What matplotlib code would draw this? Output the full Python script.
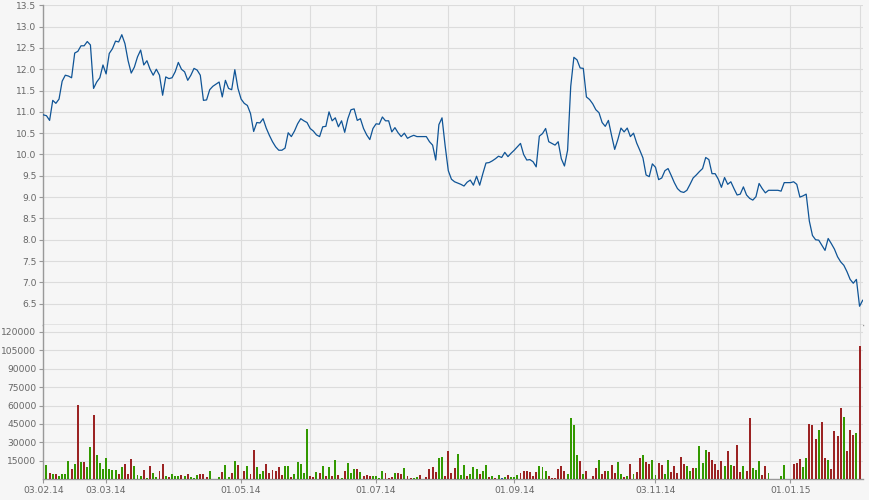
import numpy as np
import pandas as pd
import matplotlib
matplotlib.use('Agg')
import matplotlib.pyplot as plt

# weekday axis 03.02.14 .. 03.02.15
days = pd.bdate_range('2014-02-03', periods=262)

price = [
    10.93, 10.91, 10.80, 11.27, 11.20, 11.30, 11.72, 11.86, 11.84, 11.80,
    12.38, 12.42, 12.55, 12.55, 12.65, 12.57, 11.55, 11.70, 11.80, 12.10,
    11.89, 12.37, 12.48, 12.66, 12.64, 12.81, 12.60, 12.20, 11.91, 12.05,
    12.29, 12.45, 12.10, 12.20, 12.00, 11.86, 12.00, 11.86, 11.39, 11.82,
    11.78, 11.80, 11.94, 12.16, 12.00, 11.94, 11.74, 11.86, 12.02, 11.98,
    11.86, 11.27, 11.28, 11.52, 11.60, 11.65, 11.70, 11.35, 11.74, 11.55,
    11.52, 11.99, 11.55, 11.30, 11.20, 11.15, 10.96, 10.54, 10.75, 10.74,
    10.84, 10.62, 10.45, 10.30, 10.18, 10.10, 10.10, 10.15, 10.51, 10.42,
    10.55, 10.72, 10.84, 10.79, 10.75, 10.61, 10.55, 10.46, 10.42, 10.65,
    10.66, 11.00, 10.79, 10.86, 10.65, 10.79, 10.52, 10.84, 11.05, 11.07,
    10.80, 10.84, 10.61, 10.46, 10.35, 10.61, 10.72, 10.71, 10.88, 10.79,
    10.79, 10.53, 10.63, 10.51, 10.42, 10.50, 10.38, 10.42, 10.45, 10.42,
    10.42, 10.42, 10.42, 10.30, 10.22, 9.87, 10.70, 10.86, 10.20, 9.62,
    9.42, 9.36, 9.33, 9.30, 9.26, 9.35, 9.40, 9.28, 9.49, 9.28,
    9.55, 9.80, 9.81, 9.85, 9.90, 9.96, 9.93, 10.05, 9.95, 10.03,
    10.10, 10.18, 10.26, 10.00, 9.87, 9.88, 9.83, 9.71, 10.43, 10.49,
    10.61, 10.30, 10.26, 10.22, 10.30, 9.90, 9.73, 10.10, 11.60, 12.28,
    12.22, 12.03, 12.02, 11.35, 11.29, 11.19, 11.05, 10.98, 10.75, 10.66,
    10.80, 10.45, 10.12, 10.35, 10.62, 10.53, 10.62, 10.42, 10.50, 10.27,
    10.10, 9.92, 9.52, 9.48, 9.78, 9.70, 9.41, 9.45, 9.62, 9.67,
    9.51, 9.34, 9.20, 9.13, 9.11, 9.16, 9.30, 9.45, 9.52, 9.60,
    9.67, 9.93, 9.88, 9.55, 9.55, 9.42, 9.23, 9.46, 9.30, 9.36,
    9.20, 9.05, 9.07, 9.24, 9.05, 8.97, 8.93, 9.01, 9.32, 9.20,
    9.10, 9.16, 9.16, 9.16, 9.16, 9.14, 9.34, 9.34, 9.34, 9.36,
    9.30, 9.00, 9.03, 9.07, 8.44, 8.10, 8.00, 7.99, 7.87, 7.75,
    8.03, 7.91, 7.78, 7.60, 7.48, 7.40, 7.25, 7.07, 6.98, 7.07,
    6.44, 6.58,
]

# volume in thousands, from 04.02.14 to 02.02.15
volume_k = [
    11.6, 4.9, 4.3, 4.3, 2.7, 4.3, 4.3, 14.9, 8.4, 12.5,
    60.4, 14.1, 14.1, 10.0, 26.3, 52.3, 19.8, 13.3, 8.4, 17.3,
    8.4, 7.6, 7.6, 4.3, 10.0, 12.5, 4.3, 16.5, 10.8, 3.5,
    2.7, 7.6, 1.1, 10.8, 5.1, 1.9, 6.8, 12.5, 2.7, 1.9,
    4.3, 2.7, 2.7, 3.5, 2.7, 4.3, 1.9, 1.1, 3.5, 4.3,
    4.3, 1.9, 6.8, 0, 0, 1.9, 6.0, 11.6, 1.9, 5.1,
    14.9, 11.6, 0, 6.8, 10.8, 4.3, 23.8, 10.0, 4.3, 6.8,
    12.5, 5.1, 7.6, 6.8, 10.0, 3.5, 10.8, 10.8, 1.9, 4.3,
    14.1, 12.5, 5.1, 40.9, 2.7, 1.9, 6.0, 5.1, 10.8, 2.7,
    10.0, 2.7, 15.7, 3.5, 1.1, 6.8, 13.3, 5.1, 8.4, 8.4,
    6.0, 2.7, 3.5, 2.7, 2.7, 2.7, 0.8, 6.8, 5.1, 1.1,
    1.9, 5.1, 5.1, 4.3, 9.2, 2.7, 1.1, 1.1, 1.9, 3.5,
    0, 1.9, 8.4, 10.0, 6.0, 17.3, 18.2, 2.7, 23.0, 5.1,
    9.2, 20.6, 3.5, 11.6, 2.7, 4.3, 10.0, 8.4, 4.3, 6.8,
    11.6, 1.9, 2.7, 1.1, 3.5, 1.1, 1.9, 3.5, 1.9, 1.9,
    3.5, 5.1, 6.8, 6.8, 6.0, 2.7, 6.0, 10.8, 10.0, 6.8,
    2.7, 1.1, 1.1, 8.4, 10.8, 6.8, 4.3, 49.9, 44.2, 19.8,
    14.9, 4.3, 6.8, 0, 2.7, 9.2, 15.7, 4.3, 6.8, 6.8,
    11.6, 5.1, 14.1, 4.3, 1.9, 2.7, 12.5, 4.3, 6.0, 17.3,
    19.8, 14.1, 12.5, 15.7, 3.5, 13.3, 11.6, 4.3, 15.7, 6.0,
    10.8, 5.1, 18.2, 12.5, 10.8, 6.8, 9.2, 9.2, 27.1, 13.3,
    23.8, 22.2, 15.7, 12.5, 7.6, 14.9, 10.8, 23.0, 11.6, 10.8,
    27.9, 6.0, 10.8, 6.8, 49.9, 9.2, 7.6, 14.9, 3.5, 10.8,
    5.1, 0, 0, 0, 2.7, 11.6, 0, 0, 12.5, 13.3,
    16.5, 10.0, 17.3, 45.0, 44.2, 32.8, 40.1, 46.6, 17.3, 15.7,
    8.4, 39.3, 35.2, 58.0, 50.7, 23.0, 40.1, 36.0, 37.7, 108.4,
]

# g = up day, r = down day, b = unchanged
bar_kind = (
    "grgrggggrg" "rgrggrgggg" "gggrgrrrgg" "grgrggrrgr" "gggrgrgggr"
    "rrggggrggr" "grgrgrrggg" "rrrrrrggrg" "ggggrrgrgr" "grgrgrgggr"
    "grrrggggrr" "rgrrgrrggr" "grrrrggrrr" "rgggrgggrg" "grgrgbgrgg"
    "grrrrrrggg" "rrrrrrgggg" "rgrgrrgrrg" "rrggrgrgrr" "grrggrrggr"
    "rrrrggrggg" "grrrrrgrgr" "rrgrrgggrr" "ggggggggrr" "rggrrrgrrg"
    "rrrrgrrrgr"
)

label_days = ['03.02.14', '03.03.14', '01.05.14', '01.07.14',
              '01.09.14', '03.11.14', '01.01.15']
bg = '#f6f6f6'
grid_c = '#dcdcdc'
axis_c = '#999999'
text_c = '#666666'
kind_colors = {'g': '#339900', 'r': '#9b2323', 'b': '#1f5a9c'}

day_str = [d.strftime('%d.%m.%y') for d in days]
x_price = np.arange(len(price))
x_vol = np.arange(1, len(volume_k) + 1)
volume = np.array(volume_k) * 1000

# first weekday of every month
month_first = [i for i in range(len(days)) if i == 0 or days[i].month != days[i - 1].month]
major = [day_str.index(s) for s in label_days]
minor = [i for i in month_first if i not in major]

fig = plt.figure(figsize=(8.7, 5.0), dpi=100, facecolor=bg)
ax1 = fig.add_axes([0.0498, 0.35, 0.9418, 0.6394], facecolor=bg)
ax2 = fig.add_axes([0.0498, 0.0414, 0.9418, 0.3086], facecolor=bg)

ax1.plot(x_price, price, color='#0f5496', lw=0.9, zorder=3)
ax2.bar(x_vol, volume, width=0.62, color=[kind_colors[k] for k in bar_kind],
        linewidth=0, zorder=3)

for ax in (ax1, ax2):
    ax.set_xlim(0, 261)
    ax.set_xticks(major)
    ax.set_xticks(minor, minor=True)
    ax.grid(True, which='both', color=grid_c, lw=0.8, zorder=0)
    ax.set_axisbelow(True)
    for s in ('top', 'right'):
        ax.spines[s].set_visible(False)
    for s in ('left', 'bottom'):
        ax.spines[s].set_color(axis_c)
        ax.spines[s].set_linewidth(1.0)
    ax.tick_params(axis='both', which='both', colors=axis_c, labelcolor=text_c,
                   labelsize=6.6, length=3, width=0.8, pad=2)

ax1.set_ylim(6.0, 13.5)
ax1.set_yticks(np.arange(6.5, 13.51, 0.5))
ax1.set_yticklabels(['%.1f' % v for v in np.arange(6.5, 13.51, 0.5)])
ax1.tick_params(axis='x', which='both', length=0, labelbottom=False)

ax2.set_ylim(0, 125450)
ax2.set_yticks(range(15000, 120001, 15000))
ax2.set_yticklabels([str(v) for v in range(15000, 120001, 15000)])
ax2.set_xticklabels(label_days)
ax2.tick_params(axis='x', which='minor', length=0)

fig.savefig('out.png', dpi=100, facecolor=bg)
